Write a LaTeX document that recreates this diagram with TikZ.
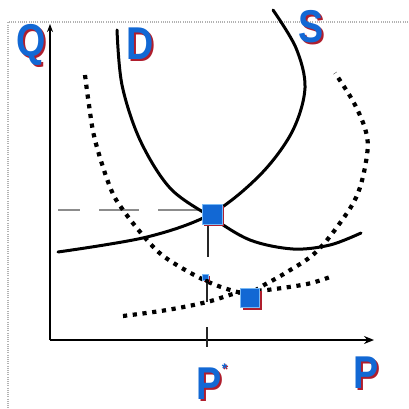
\documentclass[tikz,border=0pt]{standalone}
\usepackage{fontspec}
\setmainfont{Liberation Sans}
\usetikzlibrary{arrows.meta,shadows}
\definecolor{eqblue}{RGB}{18,104,212}
\definecolor{eqlight}{RGB}{120,185,245}
\definecolor{shred}{RGB}{175,30,45}
\tikzset{
  curve/.style={line width=3pt,line cap=round},
  dotcurve/.style={line width=4.2pt,dash pattern=on 4.2pt off 5.6pt},
  eqbox/.style={fill=eqblue,draw=eqlight,line width=1pt,inner sep=0pt,
     drop shadow={fill=shred,shadow xshift=2pt,shadow yshift=-2pt,opacity=1}},
  lbl/.style={text=eqblue,inner sep=0pt,anchor=base,
     font=\fontsize{46}{46}\selectfont\bfseries},
  axis/.style={line width=2pt},
  thin/.style={line width=1.1pt,black!85}
}
\newcommand{\lett}[1]{\makebox[0pt][l]{\kern2pt\raisebox{-2pt}{\color{shred}\scalebox{0.82}[1]{#1}}}\scalebox{0.82}[1]{#1}}
\begin{document}
\begin{tikzpicture}[x=1pt,y=-1pt]
\path[use as bounding box] (0,0) rectangle (408,409);
% border
\draw[black!30,line width=1.3pt,dash pattern=on 1pt off 1.2pt] (408,22) -- (8,22) -- (8,409);
% axes
\coordinate (O) at (50,340);
\coordinate (Qtop) at (50,24);
\coordinate (Pend) at (374,340);
\draw[axis,-{Stealth[length=8pt,width=6pt]}] (O) -- (Qtop);
\draw[axis,-{Stealth[length=10pt,width=8pt]}] (O) -- (Pend);
% dashed horizontal
\coordinate (H0) at (58,210);
\coordinate (H1) at (200,210);
\draw[black!45,line width=2.4pt,dash pattern=on 40pt off 19pt,dash phase=18pt] (H0) -- (H1);
% dotted curves
\draw[dotcurve] plot[smooth,tension=0.6] coordinates {(85,75) (89,105) (95,140) (110,187) (123,210) (147,240) (166,258) (200,278) (227,289) (248,293) (264,285) (287,272) (315,253) (340,223) (358,193) (367,155) (366,132) (354,103) (335,73)};
\draw[dotcurve] plot[smooth,tension=0.6] coordinates {(123,316) (167,310) (207,302) (233,294) (250,291) (267,290) (307,284) (330,277)};
% solid curves
\draw[curve] plot[smooth,tension=0.55] coordinates {(117,30) (122,85) (140,140) (170,188) (211,217) (250,240) (293,249) (330,245) (361,233)};
\draw[curve] plot[smooth,tension=0.55] coordinates {(58,252) (147,237) (211,214) (260,175) (292,132) (305,88) (296,48) (273,10)};
% vertical thin line
\coordinate (V0) at (208,225);
\coordinate (V1) at (208,257);
\coordinate (V2) at (207,283);
\coordinate (V3) at (207,302);
\coordinate (T0) at (207,327);
\coordinate (T1) at (207,347);
\draw[thin] (V0) -- (V1);
\draw[thin] (V2) -- (V3);
\draw[thin] (T0) -- (T1);
% equilibrium boxes
\node[eqbox,minimum size=20pt] (E1) at (212,214) {};
\node[eqbox,minimum size=19pt] (E2) at (250,298) {};
\node[eqbox,minimum size=6pt,line width=0.6pt] (E0) at (205,277) {};
\fill (207,281) circle (2.2pt);
% labels
\node[lbl] (Q) at (31,57) {\lett{Q}};
\node[lbl] (D) at (140,60) {\lett{D}};
\node[lbl] (S) at (311,43) {\lett{S}};
\node[lbl] (P) at (366,388) {\lett{P}};
\node[lbl] (PS) at (212,399) {\lett{P}\raisebox{26pt}{\fontsize{14}{14}\selectfont\makebox[0pt][l]{\kern1pt\raisebox{-1pt}{\color{shred}*}}*}};
\end{tikzpicture}
\end{document}
